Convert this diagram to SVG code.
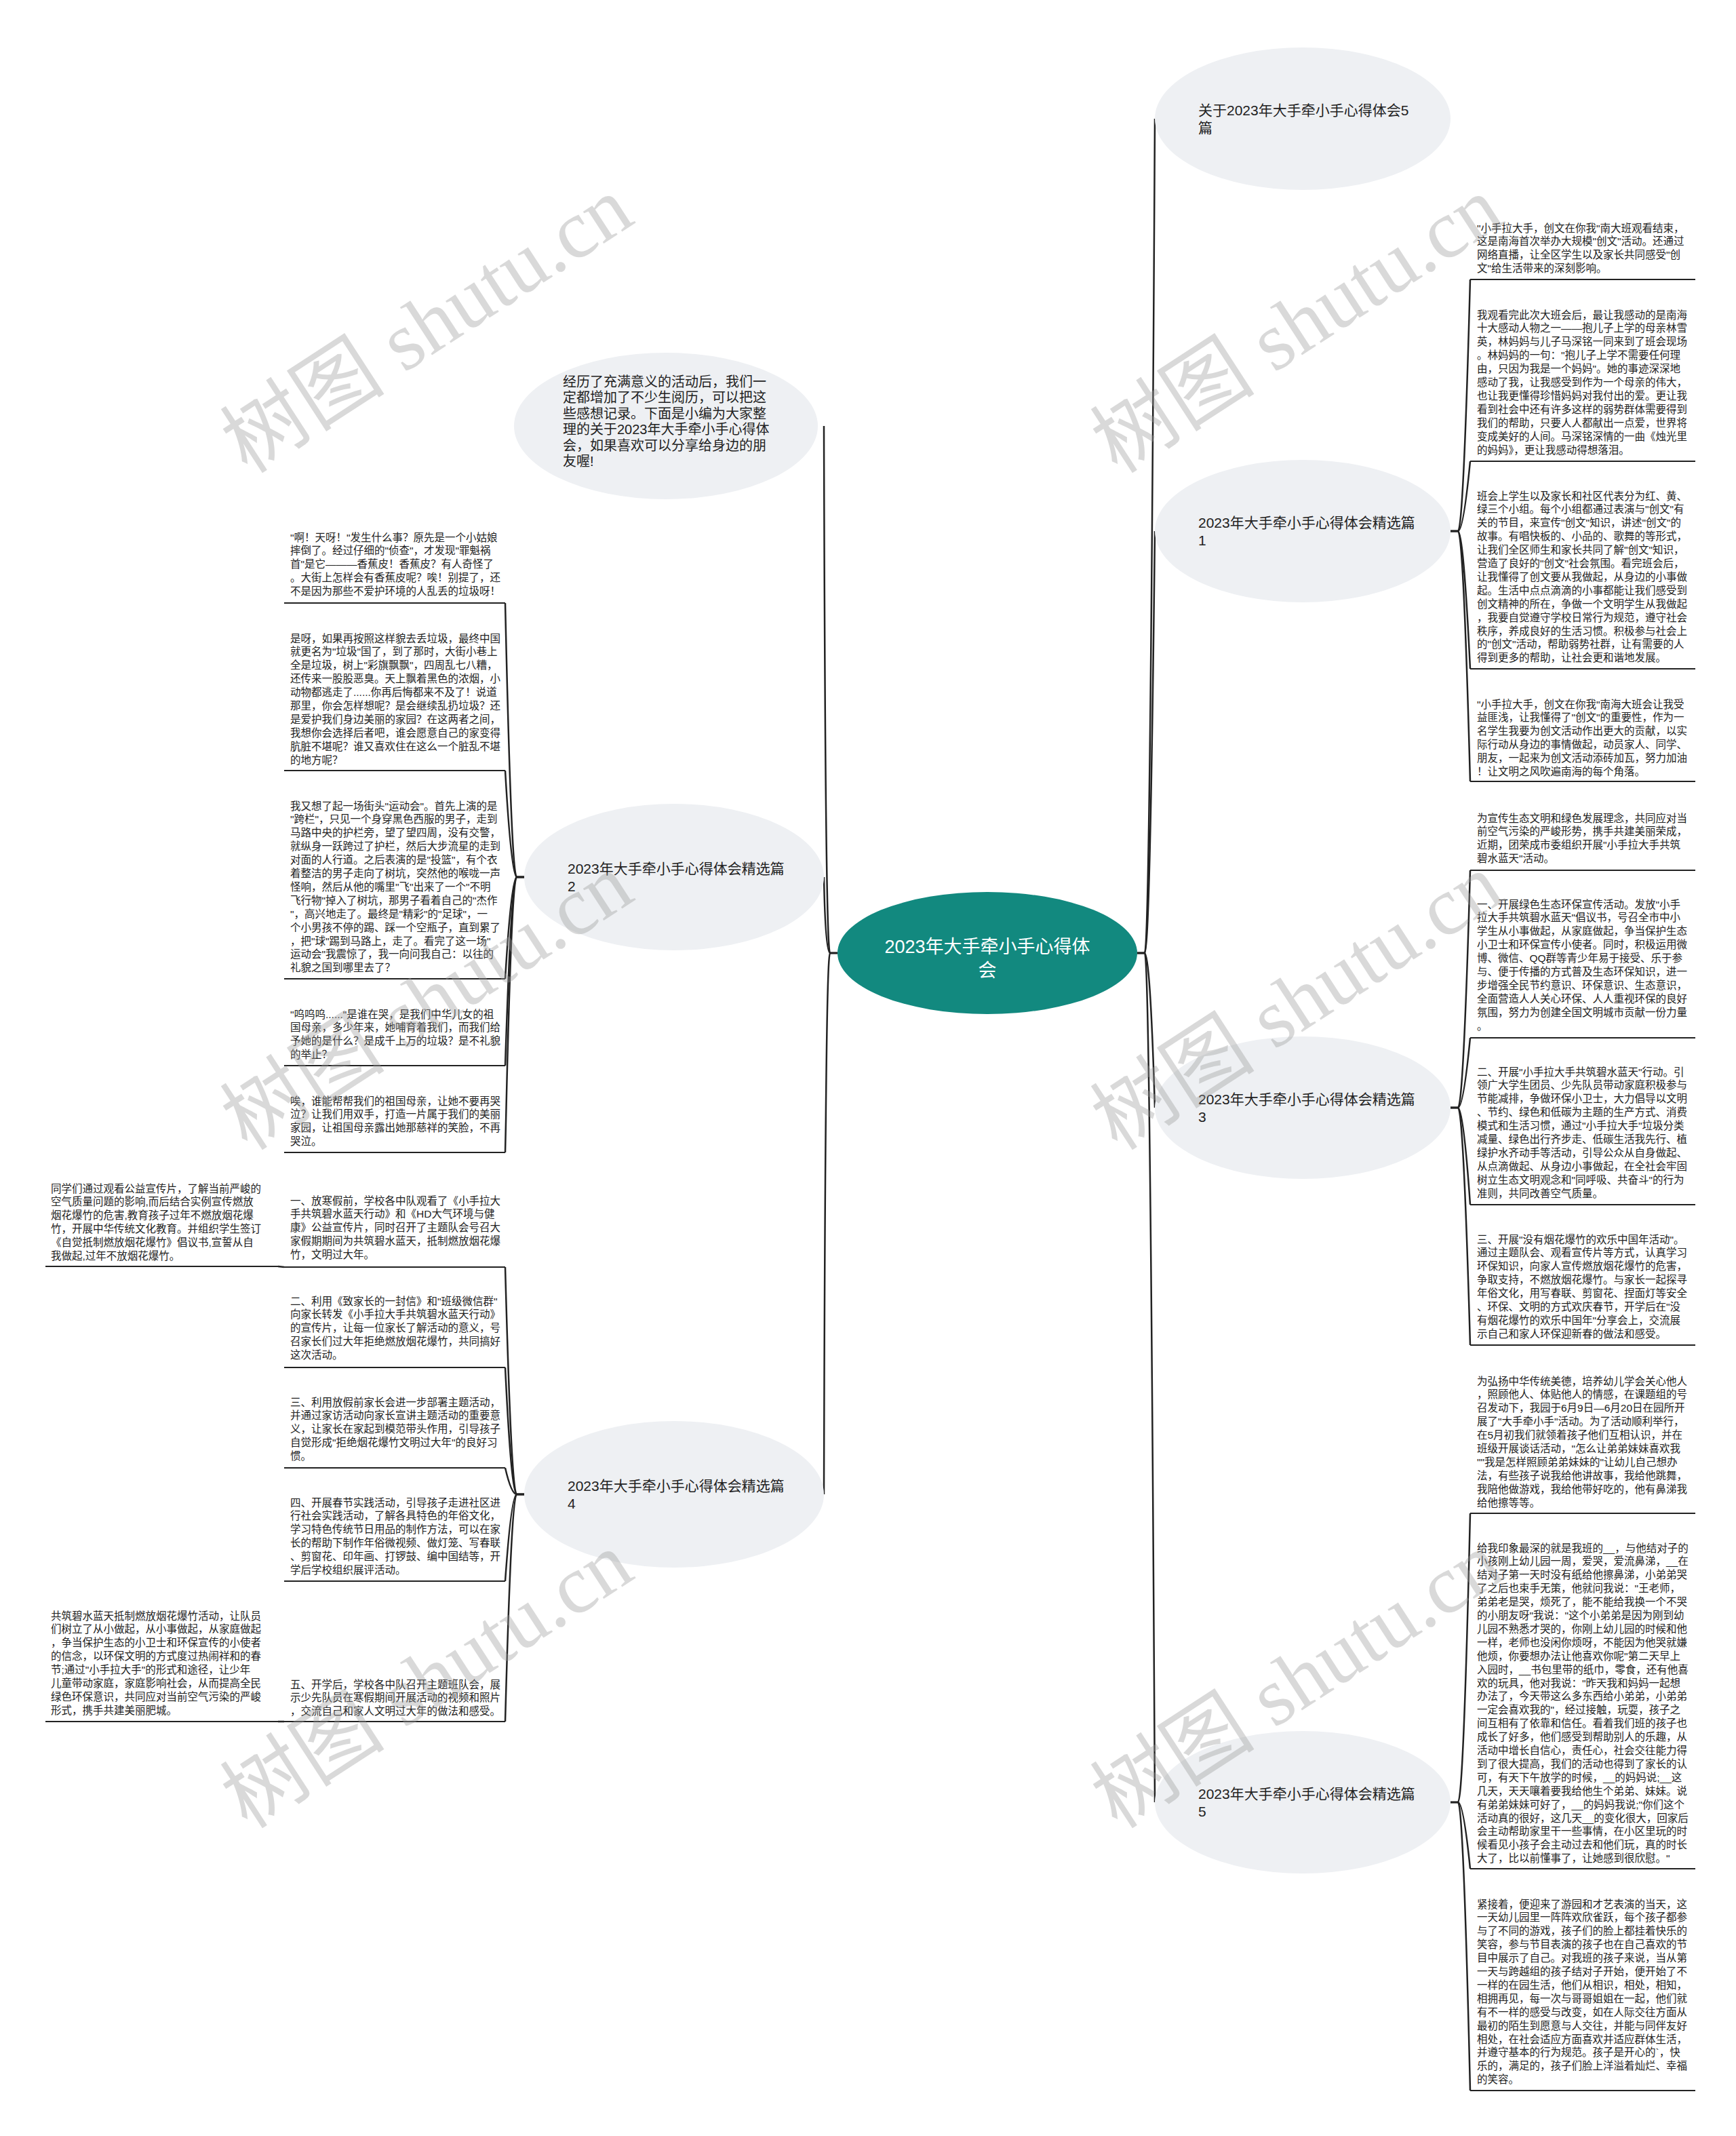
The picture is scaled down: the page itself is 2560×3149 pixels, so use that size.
<svg xmlns="http://www.w3.org/2000/svg" width="2560" height="3149" viewBox="0 0 2560 3149">
<style>
.bg{fill:#ffffff}
.topic{fill:#eef0f3}
.center{fill:#12897f}
.ctext{font-family:"Liberation Sans","Noto Sans CJK SC",sans-serif;font-size:27px;fill:#ffffff}
.t1{font-family:"Liberation Sans","Noto Sans CJK SC",sans-serif;font-size:21px;fill:#222222}
.intro{font-family:"Liberation Sans","Noto Sans CJK SC",sans-serif;font-size:20px;fill:#222222}
.leaf{font-family:"Liberation Sans","Noto Sans CJK SC",sans-serif;font-size:15.5px;fill:#222222}
.ul{stroke:#222222;stroke-width:2.2;fill:none}
.conn path{fill:none;stroke:#222222;stroke-width:2.5}
.wm{font-family:"Liberation Serif","Noto Sans CJK SC",serif;font-size:122px;fill:#9a9a9a;fill-opacity:0.38}
</style>
<rect class="bg" x="0" y="0" width="2560" height="3149"/>

<g id="connectors" class="conn">
<path d="M1677,1405 L1688,1405 Q1696,1405 1703,175"/>
<path d="M1677,1405 L1688,1405 Q1696,1405 1703,783"/>
<path d="M1677,1405 L1688,1405 Q1696,1405 1703,1633"/>
<path d="M1677,1405 L1688,1405 Q1696,1405 1703,2657"/>
<path d="M1235,1405 L1224,1405 Q1217,1405 1215,628"/>
<path d="M1235,1405 L1224,1405 Q1217,1405 1215,1293"/>
<path d="M1235,1405 L1224,1405 Q1217,1405 1215,2203"/>
<path d="M2139,783 L2150,783 Q2158,783 2168,412"/>
<path d="M2139,783 L2150,783 Q2158,783 2168,680"/>
<path d="M2139,783 L2150,783 Q2158,783 2168,986"/>
<path d="M2139,783 L2150,783 Q2158,783 2168,1152"/>
<path d="M2139,1633 L2150,1633 Q2158,1633 2168,1283"/>
<path d="M2139,1633 L2150,1633 Q2158,1633 2168,1530"/>
<path d="M2139,1633 L2150,1633 Q2158,1633 2168,1776"/>
<path d="M2139,1633 L2150,1633 Q2158,1633 2168,1983"/>
<path d="M2139,2657 L2150,2657 Q2158,2657 2168,2231"/>
<path d="M2139,2657 L2150,2657 Q2158,2657 2168,2755"/>
<path d="M2139,2657 L2150,2657 Q2158,2657 2168,3082"/>
<path d="M773,1293 L762,1293 Q754,1293 745,889"/>
<path d="M773,1293 L762,1293 Q754,1293 745,1136"/>
<path d="M773,1293 L762,1293 Q754,1293 745,1443"/>
<path d="M773,1293 L762,1293 Q754,1293 745,1571"/>
<path d="M773,1293 L762,1293 Q754,1293 745,1699"/>
<path d="M773,2203 L762,2203 Q754,2203 745,1868"/>
<path d="M773,2203 L762,2203 Q754,2203 745,2016"/>
<path d="M773,2203 L762,2203 Q754,2203 745,2164"/>
<path d="M773,2203 L762,2203 Q754,2203 745,2331"/>
<path d="M773,2203 L762,2203 Q754,2203 745,2538"/>
<path d="M419,1868 L410,1867"/>
<path d="M419,2538 L410,2538"/>
</g>

<g id="center-node">
<ellipse class="center" cx="1456" cy="1405" rx="221" ry="90"/>
<text class="ctext" text-anchor="middle"><tspan x="1456" y="1405">2023年大手牵小手心得体</tspan><tspan x="1456" y="1440">会</tspan></text>
</g>

<g id="node-5pian">
<ellipse class="topic" cx="1921" cy="175" rx="218" ry="105"/>
<text class="t1"><tspan x="1767" y="169.5">关于2023年大手牵小手心得体会5</tspan><tspan x="1767" y="195.5">篇</tspan></text>
</g>
<g id="node-pian1">
<ellipse class="topic" cx="1921" cy="783" rx="218" ry="105"/>
<text class="t1"><tspan x="1767" y="777.5">2023年大手牵小手心得体会精选篇</tspan><tspan x="1767" y="803.5">1</tspan></text>
</g>
<g id="node-pian3">
<ellipse class="topic" cx="1921" cy="1633" rx="218" ry="105"/>
<text class="t1"><tspan x="1767" y="1627.5">2023年大手牵小手心得体会精选篇</tspan><tspan x="1767" y="1653.5">3</tspan></text>
</g>
<g id="node-pian5">
<ellipse class="topic" cx="1921" cy="2657" rx="218" ry="105"/>
<text class="t1"><tspan x="1767" y="2651.5">2023年大手牵小手心得体会精选篇</tspan><tspan x="1767" y="2677.5">5</tspan></text>
</g>
<g id="node-intro">
<ellipse class="topic" cx="982" cy="628" rx="224" ry="108"/>
<text class="intro"><tspan x="830" y="570">经历了充满意义的活动后，我们一</tspan><tspan x="830" y="593.4">定都增加了不少生阅历，可以把这</tspan><tspan x="830" y="616.8">些感想记录。下面是小编为大家整</tspan><tspan x="830" y="640.2">理的关于2023年大手牵小手心得体</tspan><tspan x="830" y="663.6">会，如果喜欢可以分享给身边的朋</tspan><tspan x="830" y="687">友喔!</tspan></text>
</g>
<g id="node-pian2">
<ellipse class="topic" cx="994" cy="1293" rx="221" ry="108"/>
<text class="t1"><tspan x="837" y="1287.5">2023年大手牵小手心得体会精选篇</tspan><tspan x="837" y="1313.5">2</tspan></text>
</g>
<g id="node-pian4">
<ellipse class="topic" cx="994" cy="2203" rx="221" ry="108"/>
<text class="t1"><tspan x="837" y="2197.5">2023年大手牵小手心得体会精选篇</tspan><tspan x="837" y="2223.5">4</tspan></text>
</g>

<g id="leaf-r1a">
<text class="leaf" y="341.5"><tspan x="2178" dy="0">"小手拉大手，创文在你我"南大班观看结束，</tspan><tspan x="2178" dy="19.9">这是南海首次举办大规模"创文"活动。还通过</tspan><tspan x="2178" dy="19.9">网络直播，让全区学生以及家长共同感受"创</tspan><tspan x="2178" dy="19.9">文"给生活带来的深刻影响。</tspan></text>
<line class="ul" x1="2168" y1="412" x2="2500" y2="412"/>
</g>
<g id="leaf-r1b">
<text class="leaf" y="469.5"><tspan x="2178" dy="0">我观看完此次大班会后，最让我感动的是南海</tspan><tspan x="2178" dy="19.9">十大感动人物之一——抱儿子上学的母亲林雪</tspan><tspan x="2178" dy="19.9">英，林妈妈与儿子马深铭一同来到了班会现场</tspan><tspan x="2178" dy="19.9">。林妈妈的一句："抱儿子上学不需要任何理</tspan><tspan x="2178" dy="19.9">由，只因为我是一个妈妈"。她的事迹深深地</tspan><tspan x="2178" dy="19.9">感动了我，让我感受到作为一个母亲的伟大，</tspan><tspan x="2178" dy="19.9">也让我更懂得珍惜妈妈对我付出的爱。更让我</tspan><tspan x="2178" dy="19.9">看到社会中还有许多这样的弱势群体需要得到</tspan><tspan x="2178" dy="19.9">我们的帮助，只要人人都献出一点爱，世界将</tspan><tspan x="2178" dy="19.9">变成美好的人间。马深铭深情的一曲《烛光里</tspan><tspan x="2178" dy="19.9">的妈妈》，更让我感动得想落泪。</tspan></text>
<line class="ul" x1="2168" y1="680" x2="2500" y2="680"/>
</g>
<g id="leaf-r1c">
<text class="leaf" y="736.5"><tspan x="2178" dy="0">班会上学生以及家长和社区代表分为红、黄、</tspan><tspan x="2178" dy="19.9">绿三个小组。每个小组都通过表演与"创文"有</tspan><tspan x="2178" dy="19.9">关的节目，来宣传"创文"知识，讲述"创文"的</tspan><tspan x="2178" dy="19.9">故事。有唱快板的、小品的、歌舞的等形式，</tspan><tspan x="2178" dy="19.9">让我们全区师生和家长共同了解"创文"知识，</tspan><tspan x="2178" dy="19.9">营造了良好的"创文"社会氛围。看完班会后，</tspan><tspan x="2178" dy="19.9">让我懂得了创文要从我做起，从身边的小事做</tspan><tspan x="2178" dy="19.9">起。生活中点点滴滴的小事都能让我们感受到</tspan><tspan x="2178" dy="19.9">创文精神的所在，争做一个文明学生从我做起</tspan><tspan x="2178" dy="19.9">，我要自觉遵守学校日常行为规范，遵守社会</tspan><tspan x="2178" dy="19.9">秩序，养成良好的生活习惯。积极参与社会上</tspan><tspan x="2178" dy="19.9">的"创文"活动，帮助弱势社群，让有需要的人</tspan><tspan x="2178" dy="19.9">得到更多的帮助，让社会更和谐地发展。</tspan></text>
<line class="ul" x1="2168" y1="986" x2="2500" y2="986"/>
</g>
<g id="leaf-r1d">
<text class="leaf" y="1043.5"><tspan x="2178" dy="0">"小手拉大手，创文在你我"南海大班会让我受</tspan><tspan x="2178" dy="19.9">益匪浅，让我懂得了"创文"的重要性，作为一</tspan><tspan x="2178" dy="19.9">名学生我要为创文活动作出更大的贡献，以实</tspan><tspan x="2178" dy="19.9">际行动从身边的事情做起，动员家人、同学、</tspan><tspan x="2178" dy="19.9">朋友，一起来为创文活动添砖加瓦，努力加油</tspan><tspan x="2178" dy="19.9">！让文明之风吹遍南海的每个角落。</tspan></text>
<line class="ul" x1="2168" y1="1152" x2="2500" y2="1152"/>
</g>

<g id="leaf-r3a">
<text class="leaf" y="1211.5"><tspan x="2178" dy="0">为宣传生态文明和绿色发展理念，共同应对当</tspan><tspan x="2178" dy="19.9">前空气污染的严峻形势，携手共建美丽荣成，</tspan><tspan x="2178" dy="19.9">近期，团荣成市委组织开展"小手拉大手共筑</tspan><tspan x="2178" dy="19.9">碧水蓝天"活动。</tspan></text>
<line class="ul" x1="2168" y1="1283" x2="2500" y2="1283"/>
</g>
<g id="leaf-r3b">
<text class="leaf" y="1338.5"><tspan x="2178" dy="0">一、开展绿色生态环保宣传活动。发放"小手</tspan><tspan x="2178" dy="19.9">拉大手共筑碧水蓝天"倡议书，号召全市中小</tspan><tspan x="2178" dy="19.9">学生从小事做起，从家庭做起，争当保护生态</tspan><tspan x="2178" dy="19.9">小卫士和环保宣传小使者。同时，积极运用微</tspan><tspan x="2178" dy="19.9">博、微信、QQ群等青少年易于接受、乐于参</tspan><tspan x="2178" dy="19.9">与、便于传播的方式普及生态环保知识，进一</tspan><tspan x="2178" dy="19.9">步增强全民节约意识、环保意识、生态意识，</tspan><tspan x="2178" dy="19.9">全面营造人人关心环保、人人重视环保的良好</tspan><tspan x="2178" dy="19.9">氛围，努力为创建全国文明城市贡献一份力量</tspan><tspan x="2178" dy="19.9">。</tspan></text>
<line class="ul" x1="2168" y1="1530" x2="2500" y2="1530"/>
</g>
<g id="leaf-r3c">
<text class="leaf" y="1585.5"><tspan x="2178" dy="0">二、开展"小手拉大手共筑碧水蓝天"行动。引</tspan><tspan x="2178" dy="19.9">领广大学生团员、少先队员带动家庭积极参与</tspan><tspan x="2178" dy="19.9">节能减排，争做环保小卫士，大力倡导以文明</tspan><tspan x="2178" dy="19.9">、节约、绿色和低碳为主题的生产方式、消费</tspan><tspan x="2178" dy="19.9">模式和生活习惯，通过"小手拉大手"垃圾分类</tspan><tspan x="2178" dy="19.9">减量、绿色出行齐步走、低碳生活我先行、植</tspan><tspan x="2178" dy="19.9">绿护水齐动手等活动，引导公众从自身做起、</tspan><tspan x="2178" dy="19.9">从点滴做起、从身边小事做起，在全社会牢固</tspan><tspan x="2178" dy="19.9">树立生态文明观念和"同呼吸、共奋斗"的行为</tspan><tspan x="2178" dy="19.9">准则，共同改善空气质量。</tspan></text>
<line class="ul" x1="2168" y1="1776" x2="2500" y2="1776"/>
</g>
<g id="leaf-r3d">
<text class="leaf" y="1832.5"><tspan x="2178" dy="0">三、开展"没有烟花爆竹的欢乐中国年活动"。</tspan><tspan x="2178" dy="19.9">通过主题队会、观看宣传片等方式，认真学习</tspan><tspan x="2178" dy="19.9">环保知识，向家人宣传燃放烟花爆竹的危害，</tspan><tspan x="2178" dy="19.9">争取支持，不燃放烟花爆竹。与家长一起探寻</tspan><tspan x="2178" dy="19.9">年俗文化，用写春联、剪窗花、捏面灯等安全</tspan><tspan x="2178" dy="19.9">、环保、文明的方式欢庆春节，开学后在"没</tspan><tspan x="2178" dy="19.9">有烟花爆竹的欢乐中国年"分享会上，交流展</tspan><tspan x="2178" dy="19.9">示自己和家人环保迎新春的做法和感受。</tspan></text>
<line class="ul" x1="2168" y1="1983" x2="2500" y2="1983"/>
</g>

<g id="leaf-r5a">
<text class="leaf" y="2041.5"><tspan x="2178" dy="0">为弘扬中华传统美德，培养幼儿学会关心他人</tspan><tspan x="2178" dy="19.9">，照顾他人、体贴他人的情感，在课题组的号</tspan><tspan x="2178" dy="19.9">召发动下，我园于6月9日—6月20日在园所开</tspan><tspan x="2178" dy="19.9">展了"大手牵小手"活动。为了活动顺利举行，</tspan><tspan x="2178" dy="19.9">在5月初我们就领着孩子他们互相认识，并在</tspan><tspan x="2178" dy="19.9">班级开展谈话活动，"怎么让弟弟妹妹喜欢我</tspan><tspan x="2178" dy="19.9">""我是怎样照顾弟弟妹妹的"让幼儿自己想办</tspan><tspan x="2178" dy="19.9">法，有些孩子说我给他讲故事，我给他跳舞，</tspan><tspan x="2178" dy="19.9">我陪他做游戏，我给他带好吃的，他有鼻涕我</tspan><tspan x="2178" dy="19.9">给他擦等等。</tspan></text>
<line class="ul" x1="2168" y1="2231" x2="2500" y2="2231"/>
</g>
<g id="leaf-r5b">
<text class="leaf" y="2287.5"><tspan x="2178" dy="0">给我印象最深的就是我班的__，与他结对子的</tspan><tspan x="2178" dy="19.9">小孩刚上幼儿园一周，爱哭，爱流鼻涕，__在</tspan><tspan x="2178" dy="19.9">结对子第一天时没有纸给他擦鼻涕，小弟弟哭</tspan><tspan x="2178" dy="19.9">了之后也束手无策，他就问我说："王老师，</tspan><tspan x="2178" dy="19.9">弟弟老是哭，烦死了，能不能给我换一个不哭</tspan><tspan x="2178" dy="19.9">的小朋友呀"我说："这个小弟弟是因为刚到幼</tspan><tspan x="2178" dy="19.9">儿园不熟悉才哭的，你刚上幼儿园的时候和他</tspan><tspan x="2178" dy="19.9">一样，老师也没闲你烦呀，不能因为他哭就嫌</tspan><tspan x="2178" dy="19.9">他烦，你要想办法让他喜欢你呢"第二天早上</tspan><tspan x="2178" dy="19.9">入园时，__书包里带的纸巾，零食，还有他喜</tspan><tspan x="2178" dy="19.9">欢的玩具，他对我说："昨天我和妈妈一起想</tspan><tspan x="2178" dy="19.9">办法了，今天带这么多东西给小弟弟，小弟弟</tspan><tspan x="2178" dy="19.9">一定会喜欢我的"，经过接触，玩耍，孩子之</tspan><tspan x="2178" dy="19.9">间互相有了依靠和信任。看着我们班的孩子也</tspan><tspan x="2178" dy="19.9">成长了好多，他们感受到帮助别人的乐趣，从</tspan><tspan x="2178" dy="19.9">活动中增长自信心，责任心，社会交往能力得</tspan><tspan x="2178" dy="19.9">到了很大提高，我们的活动也得到了家长的认</tspan><tspan x="2178" dy="19.9">可，有天下午放学的时候，__的妈妈说;__这</tspan><tspan x="2178" dy="19.9">几天，天天嚷着要我给他生个弟弟、妹妹。说</tspan><tspan x="2178" dy="19.9">有弟弟妹妹可好了，__的妈妈我说;"你们这个</tspan><tspan x="2178" dy="19.9">活动真的很好，这几天__的变化很大，回家后</tspan><tspan x="2178" dy="19.9">会主动帮助家里干一些事情，在小区里玩的时</tspan><tspan x="2178" dy="19.9">候看见小孩子会主动过去和他们玩，真的时长</tspan><tspan x="2178" dy="19.9">大了，比以前懂事了，让她感到很欣慰。"</tspan></text>
<line class="ul" x1="2168" y1="2755" x2="2500" y2="2755"/>
</g>
<g id="leaf-r5c">
<text class="leaf" y="2812.5"><tspan x="2178" dy="0">紧接着，便迎来了游园和才艺表演的当天，这</tspan><tspan x="2178" dy="19.9">一天幼儿园里一阵阵欢欣雀跃，每个孩子都参</tspan><tspan x="2178" dy="19.9">与了不同的游戏，孩子们的脸上都挂着快乐的</tspan><tspan x="2178" dy="19.9">笑容，参与节目表演的孩子也在自己喜欢的节</tspan><tspan x="2178" dy="19.9">目中展示了自己。对我班的孩子来说，当从第</tspan><tspan x="2178" dy="19.9">一天与跨越组的孩子结对子开始，便开始了不</tspan><tspan x="2178" dy="19.9">一样的在园生活，他们从相识，相处，相知，</tspan><tspan x="2178" dy="19.9">相拥再见，每一次与哥哥姐姐在一起，他们就</tspan><tspan x="2178" dy="19.9">有不一样的感受与改变，如在人际交往方面从</tspan><tspan x="2178" dy="19.9">最初的陌生到愿意与人交往，并能与同伴友好</tspan><tspan x="2178" dy="19.9">相处，在社会适应方面喜欢并适应群体生活，</tspan><tspan x="2178" dy="19.9">并遵守基本的行为规范。孩子是开心的`，快</tspan><tspan x="2178" dy="19.9">乐的，满足的，孩子们脸上洋溢着灿烂、幸福</tspan><tspan x="2178" dy="19.9">的笑容。</tspan></text>
<line class="ul" x1="2168" y1="3082" x2="2500" y2="3082"/>
</g>

<g id="leaf-l2a">
<text class="leaf" y="797.5"><tspan x="428" dy="0">"啊！天呀！"发生什么事？原先是一个小姑娘</tspan><tspan x="428" dy="19.9">摔倒了。经过仔细的"侦查"，才发现"罪魁祸</tspan><tspan x="428" dy="19.9">首"是它———香蕉皮！香蕉皮？有人奇怪了</tspan><tspan x="428" dy="19.9">。大街上怎样会有香蕉皮呢？唉！别提了，还</tspan><tspan x="428" dy="19.9">不是因为那些不爱护环境的人乱丢的垃圾呀！</tspan></text>
<line class="ul" x1="419" y1="889" x2="745" y2="889"/>
</g>
<g id="leaf-l2b">
<text class="leaf" y="946.5"><tspan x="428" dy="0">是呀，如果再按照这样貌去丢垃圾，最终中国</tspan><tspan x="428" dy="19.9">就更名为"垃圾"国了，到了那时，大街小巷上</tspan><tspan x="428" dy="19.9">全是垃圾，树上"彩旗飘飘"，四周乱七八糟，</tspan><tspan x="428" dy="19.9">还传来一股股恶臭。天上飘着黑色的浓烟，小</tspan><tspan x="428" dy="19.9">动物都逃走了......你再后悔都来不及了！说道</tspan><tspan x="428" dy="19.9">那里，你会怎样想呢？是会继续乱扔垃圾？还</tspan><tspan x="428" dy="19.9">是爱护我们身边美丽的家园？在这两者之间，</tspan><tspan x="428" dy="19.9">我想你会选择后者吧，谁会愿意自己的家变得</tspan><tspan x="428" dy="19.9">肮脏不堪呢？谁又喜欢住在这么一个脏乱不堪</tspan><tspan x="428" dy="19.9">的地方呢？</tspan></text>
<line class="ul" x1="419" y1="1136" x2="745" y2="1136"/>
</g>
<g id="leaf-l2c">
<text class="leaf" y="1193.5"><tspan x="428" dy="0">我又想了起一场街头"运动会"。首先上演的是</tspan><tspan x="428" dy="19.9">"跨栏"，只见一个身穿黑色西服的男子，走到</tspan><tspan x="428" dy="19.9">马路中央的护栏旁，望了望四周，没有交警，</tspan><tspan x="428" dy="19.9">就纵身一跃跨过了护栏，然后大步流星的走到</tspan><tspan x="428" dy="19.9">对面的人行道。之后表演的是"投篮"，有个衣</tspan><tspan x="428" dy="19.9">着整洁的男子走向了树坑，突然他的喉咙一声</tspan><tspan x="428" dy="19.9">怪响，然后从他的嘴里"飞"出来了一个"不明</tspan><tspan x="428" dy="19.9">飞行物"掉入了树坑，那男子看着自己的"杰作</tspan><tspan x="428" dy="19.9">"，高兴地走了。最终是"精彩"的"足球"，一</tspan><tspan x="428" dy="19.9">个小男孩不停的踢、踩一个空瓶子，直到累了</tspan><tspan x="428" dy="19.9">，把"球"踢到马路上，走了。看完了这一场"</tspan><tspan x="428" dy="19.9">运动会"我震惊了，我一向问我自己：以往的</tspan><tspan x="428" dy="19.9">礼貌之国到哪里去了？</tspan></text>
<line class="ul" x1="419" y1="1443" x2="745" y2="1443"/>
</g>
<g id="leaf-l2d">
<text class="leaf" y="1500.5"><tspan x="428" dy="0">"呜呜呜......"是谁在哭，是我们中华儿女的祖</tspan><tspan x="428" dy="19.9">国母亲，多少年来，她哺育着我们，而我们给</tspan><tspan x="428" dy="19.9">予她的是什么？是成千上万的垃圾？是不礼貌</tspan><tspan x="428" dy="19.9">的举止？</tspan></text>
<line class="ul" x1="419" y1="1571" x2="745" y2="1571"/>
</g>
<g id="leaf-l2e">
<text class="leaf" y="1628.5"><tspan x="428" dy="0">唉，谁能帮帮我们的祖国母亲，让她不要再哭</tspan><tspan x="428" dy="19.9">泣？让我们用双手，打造一片属于我们的美丽</tspan><tspan x="428" dy="19.9">家园，让祖国母亲露出她那慈祥的笑脸，不再</tspan><tspan x="428" dy="19.9">哭泣。</tspan></text>
<line class="ul" x1="419" y1="1699" x2="745" y2="1699"/>
</g>

<g id="leaf-l4a">
<text class="leaf" y="1775.5"><tspan x="428" dy="0">一、放寒假前，学校各中队观看了《小手拉大</tspan><tspan x="428" dy="19.9">手共筑碧水蓝天行动》和《HD大气环境与健</tspan><tspan x="428" dy="19.9">康》公益宣传片，同时召开了主题队会号召大</tspan><tspan x="428" dy="19.9">家假期期间为共筑碧水蓝天，抵制燃放烟花爆</tspan><tspan x="428" dy="19.9">竹，文明过大年。</tspan></text>
<line class="ul" x1="419" y1="1868" x2="745" y2="1868"/>
</g>
<g id="leaf-l4b">
<text class="leaf" y="1923.5"><tspan x="428" dy="0">二、利用《致家长的一封信》和"班级微信群"</tspan><tspan x="428" dy="19.9">向家长转发《小手拉大手共筑碧水蓝天行动》</tspan><tspan x="428" dy="19.9">的宣传片，让每一位家长了解活动的意义，号</tspan><tspan x="428" dy="19.9">召家长们过大年拒绝燃放烟花爆竹，共同搞好</tspan><tspan x="428" dy="19.9">这次活动。</tspan></text>
<line class="ul" x1="419" y1="2016" x2="745" y2="2016"/>
</g>
<g id="leaf-l4c">
<text class="leaf" y="2072.5"><tspan x="428" dy="0">三、利用放假前家长会进一步部署主题活动，</tspan><tspan x="428" dy="19.9">并通过家访活动向家长宣讲主题活动的重要意</tspan><tspan x="428" dy="19.9">义，让家长在家起到模范带头作用，引导孩子</tspan><tspan x="428" dy="19.9">自觉形成"拒绝烟花爆竹文明过大年"的良好习</tspan><tspan x="428" dy="19.9">惯。</tspan></text>
<line class="ul" x1="419" y1="2164" x2="745" y2="2164"/>
</g>
<g id="leaf-l4d">
<text class="leaf" y="2220.5"><tspan x="428" dy="0">四、开展春节实践活动，引导孩子走进社区进</tspan><tspan x="428" dy="19.9">行社会实践活动，了解各具特色的年俗文化，</tspan><tspan x="428" dy="19.9">学习特色传统节日用品的制作方法，可以在家</tspan><tspan x="428" dy="19.9">长的帮助下制作年俗微视频、做灯笼、写春联</tspan><tspan x="428" dy="19.9">、剪窗花、印年画、打锣鼓、编中国结等，开</tspan><tspan x="428" dy="19.9">学后学校组织展评活动。</tspan></text>
<line class="ul" x1="419" y1="2331" x2="745" y2="2331"/>
</g>
<g id="leaf-l4e">
<text class="leaf" y="2488.5"><tspan x="428" dy="0">五、开学后，学校各中队召开主题班队会，展</tspan><tspan x="428" dy="19.9">示少先队员在寒假期间开展活动的视频和照片</tspan><tspan x="428" dy="19.9">，交流自己和家人文明过大年的做法和感受。</tspan></text>
<line class="ul" x1="419" y1="2538" x2="745" y2="2538"/>
</g>
<g id="leaf-ll1">
<text class="leaf" y="1757.5"><tspan x="75" dy="0">同学们通过观看公益宣传片，了解当前严峻的</tspan><tspan x="75" dy="19.9">空气质量问题的影响,而后结合实例宣传燃放</tspan><tspan x="75" dy="19.9">烟花爆竹的危害,教育孩子过年不燃放烟花爆</tspan><tspan x="75" dy="19.9">竹，开展中华传统文化教育。并组织学生签订</tspan><tspan x="75" dy="19.9">《自觉抵制燃放烟花爆竹》倡议书,宣誓从自</tspan><tspan x="75" dy="19.9">我做起,过年不放烟花爆竹。</tspan></text>
<line class="ul" x1="67" y1="1867" x2="410" y2="1867"/>
</g>
<g id="leaf-ll2">
<text class="leaf" y="2387.5"><tspan x="75" dy="0">共筑碧水蓝天抵制燃放烟花爆竹活动，让队员</tspan><tspan x="75" dy="19.9">们树立了从小做起，从小事做起，从家庭做起</tspan><tspan x="75" dy="19.9">，争当保护生态的小卫士和环保宣传的小使者</tspan><tspan x="75" dy="19.9">的信念，以环保文明的方式度过热闹祥和的春</tspan><tspan x="75" dy="19.9">节;通过"小手拉大手"的形式和途径，让少年</tspan><tspan x="75" dy="19.9">儿童带动家庭，家庭影响社会，从而提高全民</tspan><tspan x="75" dy="19.9">绿色环保意识，共同应对当前空气污染的严峻</tspan><tspan x="75" dy="19.9">形式，携手共建美丽肥城。</tspan></text>
<line class="ul" x1="67" y1="2538" x2="410" y2="2538"/>
</g>

<g id="watermarks">
<text class="wm" x="365" y="700" transform="rotate(-33 365 700)">树图 shutu.cn</text>
<text class="wm" x="1648" y="700" transform="rotate(-33 1648 700)">树图 shutu.cn</text>
<text class="wm" x="365" y="1698" transform="rotate(-33 365 1698)">树图 shutu.cn</text>
<text class="wm" x="1648" y="1698" transform="rotate(-33 1648 1698)">树图 shutu.cn</text>
<text class="wm" x="365" y="2698" transform="rotate(-33 365 2698)">树图 shutu.cn</text>
<text class="wm" x="1648" y="2698" transform="rotate(-33 1648 2698)">树图 shutu.cn</text>
</g>
</svg>
